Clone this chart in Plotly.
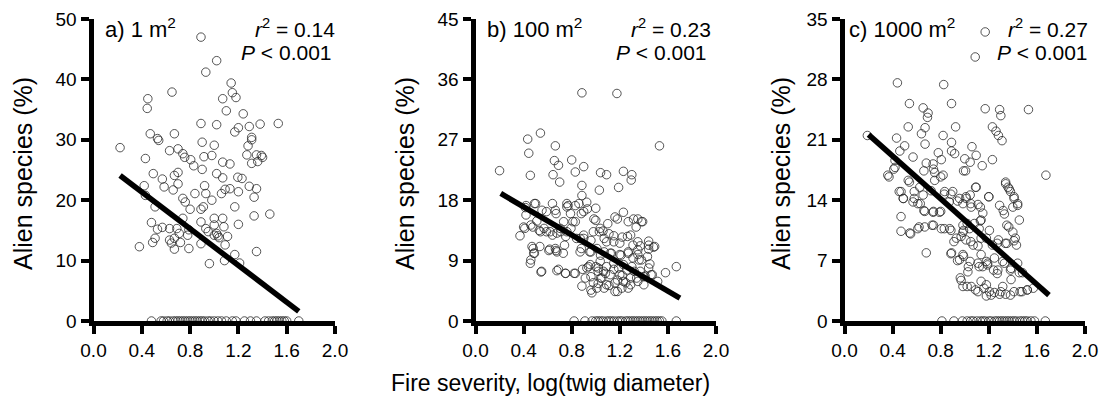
import plotly.graph_objects as go

# ---------------- data ----------------
# Panel a) 1 m2
a_x = [0.89,1.02,0.93,1.14,0.65,0.45,0.445,1.15,1.18,1.07,
       1.10,1.24,0.89,1.02,1.53,0.47,0.67,0.53,0.54,0.22,
       0.90,1.00,1.38,1.29,1.20,1.17,1.31,1.31,1.28,1.35,
       1.27,1.39,1.40,1.36,1.31,0.43,0.63,0.70,0.74,0.755,
       0.805,0.83,0.915,0.98,1.07,1.13,0.90,1.02,1.07,1.195,
       1.23,0.495,0.70,0.67,0.57,0.585,0.42,0.66,0.70,0.92,
       0.93,0.84,1.06,1.09,1.13,1.20,1.29,1.35,1.33,0.43,
       0.74,0.76,0.80,0.89,0.91,0.98,0.51,1.17,1.46,1.33,
       1.07,0.74,1.00,0.48,0.89,1.00,1.08,1.20,0.57,0.53,
       0.63,0.69,0.79,0.93,0.95,1.02,0.71,0.78,1.00,1.03,
       1.04,1.11,0.51,0.49,0.63,0.67,0.645,0.72,0.89,1.09,
       0.67,0.79,0.38,1.35,1.17,1.085,1.21,0.96]
a_y = [47.0,43.1,41.2,39.4,37.9,36.8,35.2,37.8,37.0,36.8,
       34.8,34.3,32.7,32.5,32.7,31.0,31.0,30.2,29.9,28.7,
       29.6,29.1,32.6,32.2,32.0,31.3,30.4,30.0,29.0,27.5,
       27.5,27.4,27.1,26.4,26.1,26.9,28.2,28.5,27.7,27.1,
       26.7,25.7,27.2,27.4,26.3,26.0,25.1,24.4,23.7,23.8,
       23.6,24.4,24.6,24.1,23.5,22.2,22.4,21.7,22.7,22.4,
       21.1,21.1,21.1,21.8,21.9,21.4,22.3,21.9,20.5,20.8,
       20.3,19.7,18.5,18.5,18.9,20.0,18.9,18.9,17.7,17.4,
       17.0,17.0,17.0,16.3,16.4,15.9,15.6,16.0,15.5,15.2,
       15.3,15.3,15.1,15.3,14.8,14.5,14.5,14.2,14.2,14.1,
       13.8,14.0,13.7,13.0,13.4,13.7,12.9,13.0,12.8,12.6,
       11.9,12.0,12.3,11.5,11.0,10.0,9.6,9.5]
a_zero_x = [0.48,0.56,0.58,0.61,0.63,0.66,0.68,0.70,0.72,0.74,0.76,0.78,0.80,0.82,
            0.84,0.86,0.88,0.90,0.92,0.95,0.97,1.00,1.03,1.06,1.10,1.15,1.18,1.25,
            1.30,1.35,1.42,1.45,1.48,1.50,1.52,1.54,1.56,1.58,1.60,1.70]

# Panel b) 100 m2
b_x = [0.885,1.176,1.53,0.54,0.434,0.443,0.664,0.20,0.456,0.656,
       0.69,0.645,0.70,0.80,0.90,0.83,1.04,1.09,1.23,1.30,
       1.295,1.19,1.03,0.885,0.885,0.925,0.76,0.83,0.64,0.50,
       0.415,0.42,0.553,0.664,0.76,0.90,1.00,1.00,1.23,1.16,
       1.314,1.38,1.336,0.37,0.41,0.476,0.51,0.54,0.57,0.62,
       0.677,0.705,0.733,0.76,0.794,0.83,0.87,0.90,0.98,1.037,
       1.06,1.15,1.09,1.20,1.264,1.31,1.37,1.44,1.49,1.44,
       0.47,0.484,0.456,0.535,0.617,0.664,0.677,0.74,0.87,0.95,
       1.01,1.07,1.13,1.20,1.27,1.31,1.35,1.38,1.45,1.44,
       1.47,1.58,1.67,1.515,0.545,0.677,0.747,0.83,0.926,0.913,
       0.885,0.968,0.98,1.02,1.05,1.09,1.12,1.16,1.16,1.20,
       1.23,1.26,1.29,1.34,1.40,1.037,1.15,0.954,1.00,1.065,
       1.19,1.23,1.30,1.37,1.41,1.09,1.217,1.01,
       0.42,0.49,0.77,0.86,0.93,0.59,0.67,0.79,0.88,0.985,
       0.81,1.10,1.18,1.27,1.35,1.39,0.40,0.46,0.53,0.59,
       0.64,0.71,0.75,0.84,0.90,0.96,1.03,1.07,1.11,1.15,
       1.22,1.29,1.35,1.44,1.48,0.48,0.49,0.46,0.61,0.67,
       0.73,0.88,0.96,1.04,1.12,1.21,1.27,1.35,1.36,1.43,
       0.55,0.69,0.75,0.82,0.89,0.94,0.96,1.02,1.04,1.08,
       1.11,1.15,1.18,1.22,1.25,1.29,1.32,1.35,1.40,1.46,
       0.96,1.02,1.07,1.18,1.27]
b_y = [34.0,33.9,26.1,28.0,27.1,25.0,26.1,22.4,21.7,23.9,
       23.2,21.8,20.7,24.0,23.0,22.2,22.1,21.8,22.3,21.8,
       21.0,19.9,19.5,20.2,18.7,17.7,17.5,17.2,17.5,17.5,
       16.9,15.8,16.5,16.5,17.0,16.3,16.8,15.0,16.2,15.5,
       15.2,14.8,14.0,12.7,13.8,14.0,14.9,13.3,13.8,13.3,
       13.1,13.8,14.8,13.3,13.8,14.8,12.3,12.3,13.3,13.8,
       13.4,12.7,11.8,11.6,12.6,11.3,11.2,11.9,11.1,10.7,
       11.1,10.1,8.6,11.1,10.7,10.8,10.3,11.3,10.3,10.3,
       10.8,10.3,10.1,9.9,10.3,9.4,9.9,9.1,8.5,7.9,
       6.9,7.2,8.1,5.9,7.3,7.5,7.1,7.1,7.9,6.4,
       5.2,4.2,5.7,7.4,6.4,8.1,6.9,5.7,4.4,6.9,
       5.9,7.6,5.4,6.4,5.4,8.9,8.6,8.4,8.1,7.4,
       7.9,8.4,8.1,7.4,6.7,5.4,4.9,4.9,
       17.2,17.5,17.2,17.5,16.7,16.3,16.0,16.0,16.0,15.2,
       14.8,14.5,15.2,14.8,15.2,14.8,14.0,14.3,13.5,13.3,
       12.8,13.3,12.6,12.3,12.8,12.0,13.3,12.3,13.0,11.8,
       12.5,12.8,11.8,11.3,11.0,10.8,10.1,9.1,10.5,10.5,
       10.1,10.8,10.3,9.8,10.1,9.8,10.1,10.6,9.1,9.6,
       7.4,7.7,7.1,7.1,7.7,8.1,6.6,7.9,6.4,7.1,
       5.3,7.7,6.1,6.8,5.7,6.4,7.4,5.9,6.6,6.9,
       4.6,5.6,4.9,4.4,4.9]
b_zero_x = [0.82,0.91,0.97,1.00,1.02,1.04,1.06,1.09,1.11,1.13,1.15,1.18,1.20,1.22,
            1.25,1.27,1.29,1.31,1.33,1.35,1.37,1.39,1.41,1.43,1.45,1.47,1.49,1.51,
            1.53,1.55,1.67]

# Panel c) 1000 m2
c_x = [1.17,1.087,0.44,0.825,0.54,0.89,0.654,0.695,1.17,1.29,
       1.30,1.53,0.69,0.53,0.67,0.924,1.23,1.26,0.19,0.64,
       0.82,1.28,1.31,0.433,0.50,0.67,0.89,1.06,0.46,0.89,
       0.916,1.095,0.78,1.00,1.045,1.23,1.145,0.42,0.68,0.737,
       0.805,0.57,0.42,1.007,0.36,0.75,0.82,0.53,0.75,0.626,
       0.455,0.488,0.58,0.654,0.72,0.833,0.90,0.957,1.012,1.045,
       1.095,1.20,1.34,1.36,1.38,1.41,1.44,1.29,1.32,0.57,
       0.63,0.667,0.737,0.79,0.87,0.985,1.054,1.11,1.15,0.47,
       0.61,0.667,0.728,0.543,0.47,0.805,0.875,0.985,1.04,0.985,
       1.136,1.12,1.205,1.366,1.40,1.454,0.68,0.93,1.01,1.07,
       1.136,1.23,1.28,1.337,1.42,1.43,0.89,0.985,0.957,1.045,
       1.136,1.18,1.247,1.316,1.385,1.454,0.963,1.026,1.12,1.19,
       1.275,0.985,1.054,1.136,1.18,1.205,1.247,1.29,1.34,1.41,
       1.476,1.52,1.18,1.11,1.675,1.48,1.385,1.316,
       0.37,0.41,0.54,0.66,0.74,0.80,0.99,0.47,0.49,0.58,
       0.61,0.66,0.74,0.80,0.885,0.83,0.94,1.01,1.05,1.09,
       1.13,1.20,0.55,0.62,0.74,0.83,0.885,0.91,0.97,0.99,
       1.02,1.08,1.13,1.05,1.11,1.18,1.27,1.35,1.41,1.35,
       1.33,1.40,1.44,1.34,1.37,1.41,0.885,0.94,0.99,1.03,
       1.11,1.15,1.19,1.24,1.27,1.33,1.38,1.44,0.97,1.02,
       1.09,1.16,1.22,1.30,1.38,1.46,1.52,1.57]
c_y = [33.5,30.6,27.6,27.4,25.2,25.2,24.7,24.1,24.6,24.5,
       23.8,24.5,23.6,22.5,22.4,22.5,22.5,22.0,21.5,21.7,
       21.5,21.5,20.9,21.2,20.3,20.5,20.7,20.2,19.7,19.7,
       19.4,19.2,19.5,18.8,18.4,18.7,18.0,18.6,18.3,18.2,
       18.7,19.0,17.8,17.4,16.9,17.2,16.9,16.3,16.3,15.5,
       15.0,14.2,15.0,14.6,15.1,15.0,15.0,14.2,14.2,14.6,
       15.5,14.4,16.1,15.5,15.0,14.2,13.4,13.4,12.8,13.8,
       13.6,12.7,12.6,12.6,13.8,13.6,13.2,13.5,12.5,12.1,
       10.7,10.9,11.1,10.2,10.4,10.7,10.7,11.1,10.7,10.3,
       11.7,10.7,10.5,10.9,10.3,11.7,7.9,9.6,9.4,8.8,
       9.6,8.8,9.4,9.0,9.6,8.8,7.9,7.7,7.1,6.9,
       7.7,6.9,7.3,6.9,6.1,5.6,5.0,5.7,6.3,6.5,
       5.9,4.0,4.0,4.6,4.2,3.4,3.3,3.1,3.1,3.4,
       3.4,3.6,2.9,3.4,16.9,5.6,4.8,4.0,
       16.7,17.6,16.1,17.4,17.6,16.7,17.4,15.0,14.2,14.2,
       13.6,12.8,12.7,12.7,14.7,14.7,13.9,14.4,13.6,15.5,
       13.2,14.4,10.1,10.9,11.1,10.7,10.5,9.2,9.8,10.5,
       11.3,11.3,11.6,9.2,8.7,9.6,9.0,9.0,9.3,11.1,
       12.4,13.2,13.6,15.9,15.3,14.4,7.8,7.0,7.5,6.3,
       6.7,6.3,6.7,5.9,5.5,6.7,5.9,6.7,4.7,4.0,
       3.6,3.8,3.0,3.4,3.0,3.4,3.6,3.8]
c_zero_x = [0.81,0.91,0.98,1.02,1.05,1.07,1.10,1.13,1.15,1.17,1.20,1.22,1.25,1.27,
            1.29,1.31,1.33,1.35,1.37,1.39,1.41,1.43,1.46,1.48,1.50,1.52,1.55,1.58,1.67]

# Fitted regression lines (end points)
fit_a_x, fit_a_y = [0.22, 1.70], [24.1, 1.6]
fit_b_x, fit_b_y = [0.21, 1.70], [19.0, 3.4]
fit_c_x, fit_c_y = [0.20, 1.70], [21.6, 3.0]

# Text
panel_labels = ["a) 1 m<sup>2</sup>", "b) 100 m<sup>2</sup>", "c) 1000 m<sup>2</sup>"]
r2_values = ["0.14", "0.23", "0.27"]
p_values = ["0.001", "0.001", "0.001"]
y_max = [50, 45, 35]
y_dtick = [10, 9, 7]
x_ticks = [0.0, 0.4, 0.8, 1.2, 1.6, 2.0]
y_title = "Alien species (%)"
x_title = "Fire severity, log(twig diameter)"

# ---------------- layout geometry (pixels) ----------------
W, H = 1099, 397
FONT = "Liberation Sans, Arial, Helvetica, sans-serif"
x_dom_px = [(93.5, 335), (475.5, 716), (844.5, 1085)]
y_dom_px = (19, 321)          # top, bottom
ytitle_px = [23, 405, 781]
label_left_px = [103, 485, 847]
r2_right_px = [337, 713, 1090]
p_right_px = [334, 709, 1090]


def px(xp):
    return xp / W


def py(yp):
    return 1 - yp / H


fig = go.Figure()
series = [(a_x, a_y, a_zero_x, fit_a_x, fit_a_y),
          (b_x, b_y, b_zero_x, fit_b_x, fit_b_y),
          (c_x, c_y, c_zero_x, fit_c_x, fit_c_y)]

annotations = []
for i, (sx, sy, zx, fx, fy) in enumerate(series):
    xa = "x" if i == 0 else f"x{i+1}"
    ya = "y" if i == 0 else f"y{i+1}"
    allx = list(sx) + list(zx)
    ally = list(sy) + [0.0] * len(zx)
    fig.add_trace(go.Scatter(
        x=allx, y=ally, mode="markers", xaxis=xa, yaxis=ya,
        marker=dict(symbol="circle-open", size=8.5, color="#2a2a2a",
                    line=dict(width=0.8, color="#2a2a2a")),
        cliponaxis=False, hoverinfo="skip"))
    fig.add_trace(go.Scatter(
        x=fx, y=fy, mode="lines", xaxis=xa, yaxis=ya,
        line=dict(color="black", width=5.5), cliponaxis=False, hoverinfo="skip"))

    axis_common = dict(showline=True, linewidth=5, linecolor="black", mirror=False,
                       ticks="outside", ticklen=8, tickwidth=3.5, tickcolor="black",
                       showgrid=False, zeroline=False, automargin=False,
                       layer="above traces",
                       tickfont=dict(family=FONT, size=19, color="black"))
    xd = (px(x_dom_px[i][0]), px(x_dom_px[i][1]))
    yd = (py(y_dom_px[1]), py(y_dom_px[0]))
    fig.update_layout(**{
        ("xaxis" if i == 0 else f"xaxis{i+1}"): dict(
            axis_common, domain=list(xd), range=[0, 2.0], tickvals=x_ticks,
            tickformat=".1f", anchor=ya),
        ("yaxis" if i == 0 else f"yaxis{i+1}"): dict(
            axis_common, domain=list(yd), range=[0, y_max[i]], dtick=y_dtick[i],
            tick0=0, anchor=xa),
    })

    annotations.append(dict(text=panel_labels[i], x=px(label_left_px[i]), y=py(28),
                            xref="paper", yref="paper", xanchor="left", yanchor="middle",
                            showarrow=False, font=dict(family=FONT, size=22, color="black")))
    annotations.append(dict(text=f"<i>r</i><sup>2</sup> = {r2_values[i]}",
                            x=px(r2_right_px[i]), y=py(28), xref="paper", yref="paper",
                            xanchor="right", yanchor="middle", showarrow=False,
                            font=dict(family=FONT, size=21, color="black")))
    annotations.append(dict(text=f"<i>P</i> &lt; {p_values[i]}",
                            x=px(p_right_px[i]), y=py(53), xref="paper", yref="paper",
                            xanchor="right", yanchor="middle", showarrow=False,
                            font=dict(family=FONT, size=21, color="black")))
    annotations.append(dict(text=y_title, x=px(ytitle_px[i]), y=py(174),
                            xref="paper", yref="paper", xanchor="center", yanchor="middle",
                            textangle=-90, showarrow=False,
                            font=dict(family=FONT, size=25, color="black")))

annotations.append(dict(text=x_title, x=px(550), y=py(383), xref="paper", yref="paper",
                        xanchor="center", yanchor="middle", showarrow=False,
                        font=dict(family=FONT, size=23, color="black")))

fig.update_layout(width=W, height=H,
                  margin=dict(l=0, r=0, t=0, b=0, pad=0, autoexpand=False),
                  paper_bgcolor="white", plot_bgcolor="white", showlegend=False,
                  annotations=annotations)

fig.write_html("out.html")
